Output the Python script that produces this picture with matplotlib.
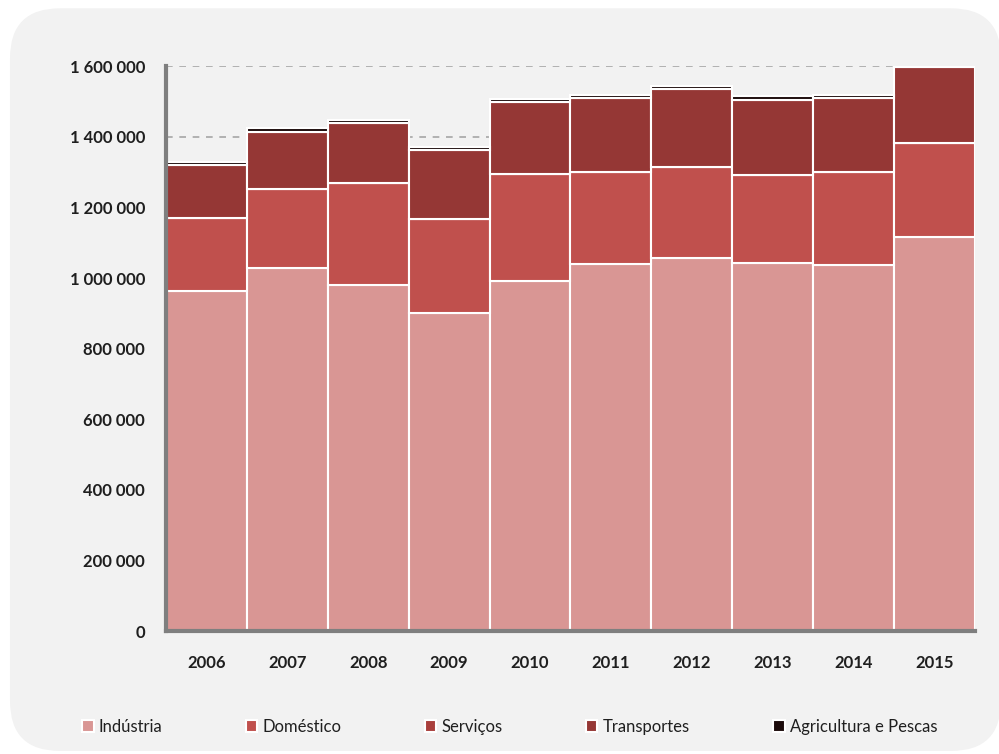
import numpy as np
import matplotlib
matplotlib.use('Agg')
import matplotlib.pyplot as plt
from matplotlib.patches import FancyBboxPatch
from matplotlib.ticker import FuncFormatter

years = ['2006', '2007', '2008', '2009', '2010', '2011', '2012', '2013', '2014', '2015']
industria = [963000, 1028000, 980000, 901000, 991000, 1039000, 1056000, 1042000, 1037000, 1116000]
domestico = [207000, 224000, 289000, 266000, 303000, 261000, 258000, 249000, 263000, 266000]
servicos = [0, 0, 0, 0, 0, 0, 0, 0, 0, 0]
transportes = [150000, 161000, 170000, 195000, 204000, 209000, 221000, 213000, 209000, 215000]
agricultura = [10000, 11000, 10000, 10000, 10000, 10000, 10000, 12000, 11000, 9000]

labels = ['Indústria', 'Doméstico', 'Serviços', 'Transportes', 'Agricultura e Pescas']
colors = ['#D99694', '#C0504D', '#A93F3C', '#953735', '#1C0B0B']
series = [industria, domestico, servicos, transportes, agricultura]

plt.rcParams['font.family'] = ['Lato', 'DejaVu Sans']

fig = plt.figure(figsize=(9.99, 7.54), dpi=100)
fig.patch.set_facecolor('white')
bg = FancyBboxPatch((0.01, 0.004), 0.992, 0.985, boxstyle='round,pad=0,rounding_size=0.05',
                    transform=fig.transFigure, facecolor='#F2F2F2', edgecolor='none',
                    mutation_aspect=999/754, zorder=-10)
fig.patches.append(bg)

ax = fig.add_axes([0.166, 0.163, 0.81, 0.749])
ax.set_facecolor('none')
ax.set_zorder(2)

x = np.arange(len(years))
bottom = np.zeros(len(years))
for vals, col, lab in zip(series, colors, labels):
    ax.bar(x, vals, width=1.0, bottom=bottom, color=col, edgecolor='white',
           linewidth=1.5, label=lab, zorder=3)
    bottom += np.array(vals)

ax.set_xlim(-0.5, 9.5)
ax.set_ylim(0, 1600000)
ax.set_yticks(np.arange(0, 1600001, 200000))
ax.yaxis.set_major_formatter(FuncFormatter(lambda v, p: f'{int(v):,}'.replace(',', ' ')))
ax.set_xticks(x)
ax.set_xticklabels(years)
ax.grid(axis='y', color='#A6A6A6', linestyle=(0, (4, 4)), linewidth=1.2, zorder=0)
ax.set_axisbelow(True)
ax.tick_params(length=0, labelsize=12, colors='#1F1F1F', pad=17)
for lab in ax.get_xticklabels() + ax.get_yticklabels():
    lab.set_fontweight('bold')
ax.tick_params(axis='y', pad=15)

for s in ['top', 'right']:
    ax.spines[s].set_visible(False)
for s in ['left', 'bottom']:
    ax.spines[s].set_color('#7F7F7F')
    ax.spines[s].set_linewidth(3)
    ax.spines[s].set_zorder(5)

leg = fig.legend(loc='center', bbox_to_anchor=(0.51, 0.036), ncol=5, frameon=False,
                 fontsize=12, handlelength=0.7, handleheight=0.7, handletextpad=0.3,
                 columnspacing=5.0)
for t in leg.get_texts():
    t.set_color('#1F1F1F')

fig.savefig('out.png', dpi=100, facecolor=fig.get_facecolor())
